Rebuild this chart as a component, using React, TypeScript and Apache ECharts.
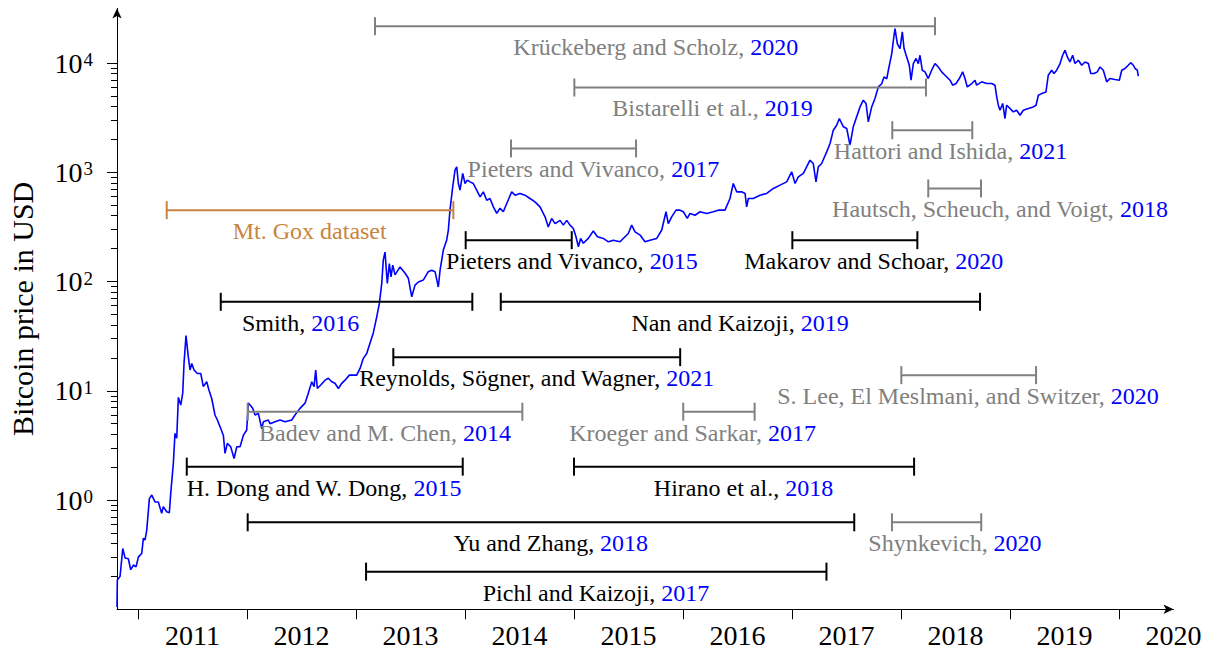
import React, { useEffect, useRef } from "react";
import * as echarts from "echarts";

// Bitcoin price (decimal year, USD)
const dates = [
  2010.807, 2010.81, 2010.835, 2010.86, 2010.881, 2010.911, 2010.933, 2010.957, 2010.982, 2011.003,
  2011.034, 2011.049, 2011.064, 2011.08, 2011.104, 2011.126, 2011.156, 2011.186, 2011.217, 2011.232,
  2011.263, 2011.287, 2011.3, 2011.324, 2011.339, 2011.355, 2011.37, 2011.392, 2011.41, 2011.422,
  2011.44, 2011.461, 2011.477, 2011.493, 2011.514, 2011.544, 2011.575, 2011.599, 2011.63, 2011.651,
  2011.676, 2011.706, 2011.728, 2011.752, 2011.783, 2011.798, 2011.819, 2011.85, 2011.881, 2011.906,
  2011.936, 2011.966, 2011.997, 2012.012, 2012.028, 2012.052, 2012.073, 2012.104, 2012.135, 2012.15,
  2012.195, 2012.211, 2012.257, 2012.303, 2012.349, 2012.41, 2012.44, 2012.486, 2012.532, 2012.562,
  2012.594, 2012.615, 2012.63, 2012.645, 2012.676, 2012.716, 2012.746, 2012.777, 2012.807, 2012.838,
  2012.869, 2012.899, 2012.939, 2013.006, 2013.037, 2013.067, 2013.098, 2013.128, 2013.159, 2013.19,
  2013.214, 2013.236, 2013.25, 2013.266, 2013.287, 2013.306, 2013.321, 2013.337, 2013.358, 2013.404,
  2013.45, 2013.48, 2013.511, 2013.541, 2013.572, 2013.617, 2013.663, 2013.694, 2013.725, 2013.755,
  2013.771, 2013.801, 2013.832, 2013.847, 2013.862, 2013.887, 2013.908, 2013.924, 2013.939, 2013.954,
  2013.979, 2014.0, 2014.021, 2014.046, 2014.076, 2014.107, 2014.138, 2014.168, 2014.199, 2014.229,
  2014.26, 2014.291, 2014.321, 2014.351, 2014.383, 2014.428, 2014.459, 2014.505, 2014.55, 2014.596,
  2014.642, 2014.688, 2014.734, 2014.764, 2014.795, 2014.826, 2014.872, 2014.902, 2014.933, 2014.963,
  2014.994, 2015.018, 2015.04, 2015.061, 2015.085, 2015.131, 2015.177, 2015.215, 2015.269, 2015.315,
  2015.361, 2015.422, 2015.468, 2015.498, 2015.529, 2015.56, 2015.606, 2015.651, 2015.697, 2015.759,
  2015.805, 2015.844, 2015.865, 2015.896, 2015.936, 2015.972, 2016.003, 2016.039, 2016.064, 2016.11,
  2016.156, 2016.217, 2016.278, 2016.324, 2016.385, 2016.431, 2016.461, 2016.493, 2016.538, 2016.569,
  2016.584, 2016.599, 2016.645, 2016.706, 2016.768, 2016.829, 2016.89, 2016.951, 2016.997, 2017.028,
  2017.058, 2017.104, 2017.165, 2017.195, 2017.22, 2017.241, 2017.272, 2017.318, 2017.349, 2017.379,
  2017.41, 2017.434, 2017.471, 2017.502, 2017.532, 2017.562, 2017.593, 2017.624, 2017.654, 2017.679,
  2017.7, 2017.731, 2017.761, 2017.792, 2017.823, 2017.844, 2017.869, 2017.884, 2017.915, 2017.936,
  2017.945, 2017.966, 2017.991, 2018.012, 2018.028, 2018.052, 2018.076, 2018.092, 2018.113, 2018.138,
  2018.159, 2018.174, 2018.195, 2018.22, 2018.25, 2018.281, 2018.312, 2018.342, 2018.373, 2018.404,
  2018.45, 2018.474, 2018.505, 2018.535, 2018.566, 2018.587, 2018.608, 2018.649, 2018.679, 2018.694,
  2018.74, 2018.786, 2018.832, 2018.862, 2018.878, 2018.893, 2018.908, 2018.933, 2018.954, 2018.969,
  2019.0, 2019.03, 2019.061, 2019.092, 2019.122, 2019.168, 2019.214, 2019.239, 2019.26, 2019.291,
  2019.33, 2019.351, 2019.382, 2019.404, 2019.428, 2019.459, 2019.483, 2019.505, 2019.526, 2019.55,
  2019.575, 2019.596, 2019.627, 2019.658, 2019.688, 2019.719, 2019.741, 2019.771, 2019.801, 2019.826,
  2019.856, 2019.887, 2019.917, 2019.963, 2020.003, 2020.025, 2020.055, 2020.085, 2020.107, 2020.131,
  2020.147, 2020.168, 2020.177,
];
const prices = [
  0.105, 0.185, 0.2, 0.36, 0.295, 0.29, 0.23, 0.254, 0.245, 0.3,
  0.325, 0.447, 0.43, 0.53, 1.03, 1.11, 0.96, 0.96, 0.755, 0.87,
  0.78, 0.765, 1.15, 2.17, 4.07, 3.67, 8.7, 7.4, 9.5, 17.8,
  32, 20.5, 15.5, 17.8, 15.5, 14.4, 14.4, 10.9, 12.1, 10.1,
  8.5, 6.0, 5.4, 4.7, 3.9, 2.67, 3.3, 3.07, 2.4, 3.07,
  3.07, 3.9, 4.37, 7.7, 7.4, 6.9, 6.0, 6.2, 4.5, 5.2,
  5.4, 5.0, 5.2, 5.4, 5.2, 5.4, 6.0, 6.9, 7.7, 9.5,
  12.1, 10.9, 15.5, 10.5, 11.3, 12.5, 13.0, 12.1, 11.7, 10.5,
  11.7, 12.5, 13.9, 13.9, 16.0, 19.8, 21.9, 27.2, 34, 47.5,
  63, 96, 157, 186, 96, 146, 110, 141, 115, 136,
  119, 107, 72.5, 92.7, 99, 103, 123, 127, 123, 89,
  127, 194, 240, 296, 450, 735, 1045, 1122, 789, 686,
  976, 789, 847, 817, 789, 686, 596, 662, 555, 575,
  482, 420, 468, 435, 518, 662, 617, 640, 617, 575,
  535, 482, 391, 316, 378, 339, 363, 328, 363, 328,
  306, 257, 208, 248, 224, 248, 290, 257, 248, 231,
  239, 231, 257, 275, 328, 285, 266, 231, 239, 248,
  296, 435, 339, 391, 450, 450, 435, 378, 420, 404,
  435, 420, 435, 450, 450, 575, 789, 662, 662, 640,
  482, 575, 575, 617, 640, 711, 763, 817, 1009, 789,
  908, 976, 1290, 1202, 817, 1122, 1202, 1538, 1836, 2428,
  2698, 3105, 2606, 2515, 1770, 2606, 3214, 3963, 4571, 4266,
  2891, 3963, 4730, 6040, 6460, 7460, 7166, 8590, 12200, 17950,
  20660, 15070, 13560, 19270, 13560, 11380, 9550, 6960, 9890, 11000,
  9890, 11780, 8590, 8300, 7210, 8590, 9890, 9200, 8300, 7730,
  6960, 6270, 6490, 7210, 8300, 7210, 6040, 6490, 6960, 6270,
  6730, 6490, 6490, 6270, 4900, 4110, 3700, 4266, 3105, 4110,
  3840, 3570, 3700, 3330, 3700, 3840, 3963, 4110, 5070, 5250,
  5440, 7730, 8590, 8010, 8590, 9890, 11780, 13100, 11380, 10230,
  11780, 9890, 10610, 9550, 10230, 9890, 8010, 8010, 8300, 9200,
  8590, 6730, 7210, 7060, 6960, 8590, 8910, 9550, 10070, 9550,
  8910, 8590, 7600,
];

// Studies: sample periods
const studyNames = [
  "Krückeberg and Scholz", "Bistarelli et al.", "Pieters and Vivanco", "Hattori and Ishida",
  "Hautsch, Scheuch, and Voigt", "Mt. Gox dataset", "Pieters and Vivanco", "Makarov and Schoar",
  "Smith", "Nan and Kaizoji", "Reynolds, Sögner, and Wagner", "S. Lee, El Meslmani, and Switzer",
  "Badev and M. Chen", "Kroeger and Sarkar", "H. Dong and W. Dong", "Hirano et al.",
  "Yu and Zhang", "Shynkevich", "Pichl and Kaizoji",
];
const studyYears = [
  "2020", "2019", "2017", "2021", "2018", "", "2015", "2020", "2016", "2019",
  "2021", "2020", "2014", "2017", "2015", "2018", "2018", "2020", "2017",
];
const studyStart = [
  2013.174, 2015.003, 2014.422, 2017.92, 2018.25, 2011.263, 2014.006, 2017.003, 2011.759, 2014.328,
  2013.342, 2018.003, 2012.006, 2016.002, 2011.447, 2015.0, 2012.006, 2017.917, 2013.092,
];
const studyEnd = [
  2018.312, 2018.229, 2015.569, 2018.654, 2018.734, 2013.893, 2014.979, 2018.15, 2014.067, 2018.725,
  2015.974, 2019.239, 2014.526, 2016.657, 2013.979, 2018.12, 2017.571, 2018.736, 2017.316,
];
const studyLevel = [
  21730, 5970, 1652, 2427, 711, 450, 239, 239, 65.2, 65.2,
  20.3, 13.9, 6.43, 6.43, 2.02, 2.02, 0.625, 0.625, 0.221,
];
const studyLabelAt = [
  2015.75, 2016.271, 2015.177, 2018.454, 2018.908, 2012.575, 2014.979, 2017.75, 2012.491, 2016.523,
  2014.657, 2018.615, 2013.266, 2016.088, 2012.706, 2016.555, 2014.787, 2018.495, 2015.202,
];
const studyTone = [
  "gray", "gray", "gray", "gray", "gray", "orange", "black", "black", "black", "black",
  "black", "gray", "gray", "gray", "black", "black", "black", "gray", "black",
];

const yearTicks = [2011, 2012, 2013, 2014, 2015, 2016, 2017, 2018, 2019, 2020];
const yearLabels = [2011.5, 2012.5, 2013.5, 2014.5, 2015.5, 2016.5, 2017.5, 2018.5, 2019.5, 2020.5];
const decadeTicks = [1, 10, 100, 1000, 10000];
const minorTicks = [
  0.2, 0.3, 0.4, 0.5, 0.6, 0.7, 0.8, 0.9,
  2, 3, 4, 5, 6, 7, 8, 9,
  20, 30, 40, 50, 60, 70, 80, 90,
  200, 300, 400, 500, 600, 700, 800, 900,
  2000, 3000, 4000, 5000, 6000, 7000, 8000, 9000,
];

const FONT = "'Liberation Serif', 'DejaVu Serif', serif";
const toneColor: Record<string, string> = {
  gray: "#808080",
  black: "#000000",
  orange: "#c8843c",
};

export default function App() {
  const ref = useRef<HTMLDivElement>(null);
  useEffect(() => {
    if (!ref.current) return;
    const chart = echarts.init(ref.current, undefined, { renderer: "svg" });
    const yMin = 0.1;
    const yMax = Math.pow(10, 4.5);
    const option: any = {
      animation: false,
      backgroundColor: "#ffffff",
      textStyle: { fontFamily: FONT },
      grid: {
        left: 117,
        right: 36.5,
        top: 8.4,
        bottom: 43.75,
        containLabel: false,
        outerBoundsMode: "none",
      },
      xAxis: {
        type: "value",
        min: 2010.807,
        max: 2020.5,
        splitLine: { show: false },
        axisLine: {
          show: true,
          symbol: ["none", "arrow"],
          symbolSize: [7, 10],
          lineStyle: { color: "#000", width: 1 },
        },
        axisTick: {
          show: true,
          customValues: yearTicks,
          length: 10,
          lineStyle: { color: "#000", width: 1 },
        },
        axisLabel: {
          show: true,
          customValues: yearLabels,
          formatter: (v: number) => String(Math.floor(v)),
          fontFamily: FONT,
          fontSize: 28,
          color: "#000",
          margin: 12,
        },
      },
      yAxis: [
        {
          type: "log",
          logBase: 10,
          min: yMin,
          max: yMax,
          name: "Bitcoin price in USD",
          nameLocation: "middle",
          nameGap: 80,
          nameRotate: 90,
          nameTextStyle: { fontFamily: FONT, fontSize: 30, color: "#000" },
          splitLine: { show: false },
          axisLine: {
            show: true,
            symbol: ["none", "arrow"],
            symbolSize: [7, 10],
            lineStyle: { color: "#000", width: 1 },
          },
          axisTick: {
            show: true,
            customValues: decadeTicks,
            length: 10,
            lineStyle: { color: "#000", width: 1 },
          },
          axisLabel: {
            show: true,
            customValues: decadeTicks,
            margin: 24,
            formatter: (v: number) => "{b|10}{s|" + Math.round(Math.log10(v)) + "}",
            rich: {
              b: { fontFamily: FONT, fontSize: 28, color: "#000", verticalAlign: "bottom" },
              s: {
                fontFamily: FONT,
                fontSize: 19,
                color: "#000",
                verticalAlign: "bottom",
                padding: [0, 0, 8, 1],
              },
            },
          },
        },
        {
          type: "log",
          logBase: 10,
          min: yMin,
          max: yMax,
          position: "left",
          splitLine: { show: false },
          axisLine: { show: false },
          axisLabel: { show: false },
          axisTick: {
            show: true,
            customValues: minorTicks,
            length: 6,
            lineStyle: { color: "#000", width: 1 },
          },
        },
      ],
      series: [
        {
          type: "line",
          data: dates.map((d, i) => [d, prices[i]]),
          xAxisIndex: 0,
          yAxisIndex: 0,
          showSymbol: false,
          symbol: "none",
          lineStyle: { color: "#0000ff", width: 1.6 },
          z: 2,
          silent: true,
        },
        {
          type: "custom",
          xAxisIndex: 0,
          yAxisIndex: 0,
          clip: false,
          z: 3,
          silent: true,
          encode: { x: [0, 1, 3], y: 2 },
          data: studyNames.map((_, i) => [studyStart[i], studyEnd[i], studyLevel[i], studyLabelAt[i]]),
          renderItem: (params: any, api: any) => {
            const i = params.dataIndex;
            const p1 = api.coord([api.value(0), api.value(2)]);
            const p2 = api.coord([api.value(1), api.value(2)]);
            const lx = api.coord([api.value(3), api.value(2)])[0];
            const color = toneColor[studyTone[i]];
            const h = 9;
            const ls = { stroke: color, lineWidth: 2 };
            const text = studyYears[i]
              ? "{n|" + studyNames[i] + ", }{y|" + studyYears[i] + "}"
              : "{n|" + studyNames[i] + "}";
            return {
              type: "group",
              children: [
                { type: "line", shape: { x1: p1[0], y1: p1[1], x2: p2[0], y2: p2[1] }, style: ls },
                { type: "line", shape: { x1: p1[0], y1: p1[1] - h, x2: p1[0], y2: p1[1] + h }, style: ls },
                { type: "line", shape: { x1: p2[0], y1: p2[1] - h, x2: p2[0], y2: p2[1] + h }, style: ls },
                {
                  type: "text",
                  x: lx,
                  y: p1[1] + 21,
                  style: {
                    text,
                    align: "center",
                    verticalAlign: "middle",
                    fontFamily: FONT,
                    fontSize: 24,
                    rich: {
                      n: { fill: color, fontFamily: FONT, fontSize: 24 },
                      y: { fill: "#0000ff", fontFamily: FONT, fontSize: 24 },
                    },
                  },
                },
              ],
            };
          },
        },
      ],
    };
    chart.setOption(option);
    return () => chart.dispose();
  }, []);
  return (
    <div
      ref={ref}
      style={{ position: "absolute", left: 0, top: 0, width: 1210, height: 653, background: "#fff" }}
    />
  );
}
